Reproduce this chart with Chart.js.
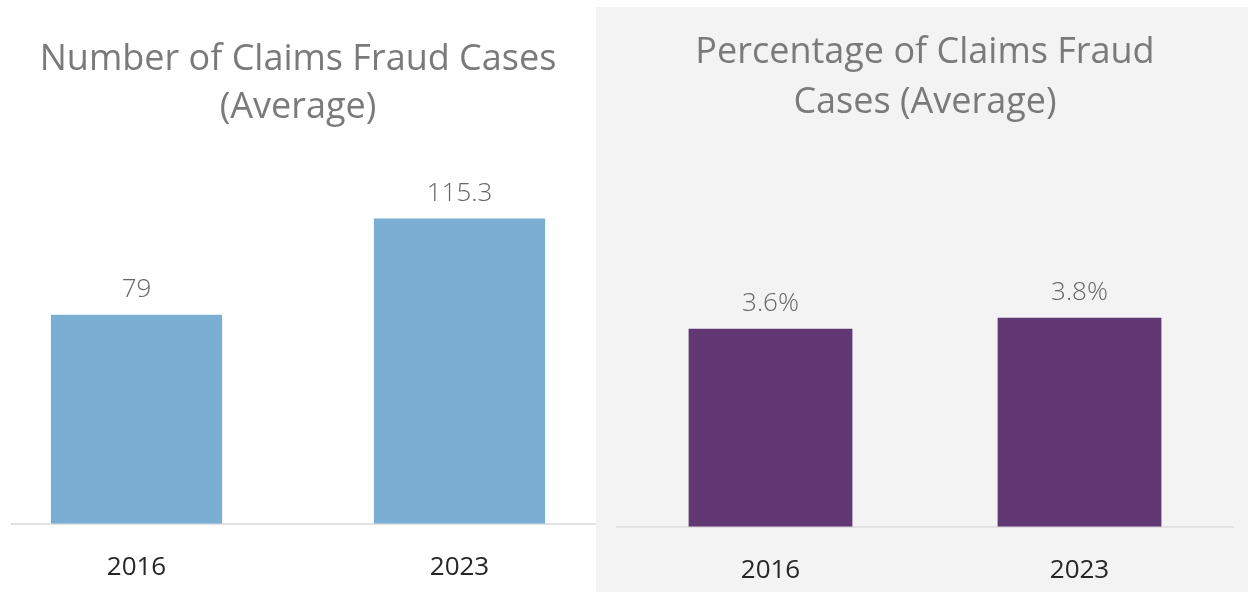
<!DOCTYPE html>
<html>
<head>
<meta charset="utf-8">
<script src="https://cdn.jsdelivr.net/npm/chart.js@4.4.1/dist/chart.umd.min.js"></script>
<style>
  html, body { margin: 0; padding: 0; background: #fff; }
  body { width: 1248px; height: 592px; position: relative; overflow: hidden; }
  #leftWrap { position: absolute; left: 11px; top: 0; width: 585px; height: 621px; overflow: hidden; }
  #countChart { position: absolute; left: -36px; top: 0; }
  #rightWrap { position: absolute; left: 596px; top: 7px; width: 652px; height: 614px; background: #f3f3f3; }
  #pctChart { position: absolute; left: 20px; top: 0; }
</style>
</head>
<body>
<div id="leftWrap"><canvas id="countChart" width="646" height="621"></canvas></div>
<div id="rightWrap"><canvas id="pctChart" width="618" height="614"></canvas></div>
<script>
const years = ["2016", "2023"];
const fraudCases = [79, 115.3];
const fraudPercent = [3.6, 3.8];
const countTitle = ["Number of Claims Fraud Cases", "(Average)"];
const pctTitle = ["Percentage of Claims Fraud", "Cases (Average)"];

Chart.defaults.font.family = "'Open Sans', sans-serif";

// value text above every bar
const valueLabels = {
  id: "valueLabels",
  afterDatasetsDraw(chart, args, opts) {
    const ctx = chart.ctx;
    const values = chart.data.datasets[0].data;
    ctx.save();
    ctx.font = opts.font;
    ctx.fillStyle = opts.color;
    ctx.textAlign = "center";
    ctx.textBaseline = "alphabetic";
    chart.getDatasetMeta(0).data.forEach((bar, i) => {
      ctx.fillText(opts.format(values[i]), bar.x, bar.y - opts.gap);
    });
    ctx.restore();
  }
};

function makeChart(id, values, color, title, yMax, titleTop, lineHeight, bottomPad, fmt) {
  return new Chart(document.getElementById(id), {
    type: "bar",
    data: {
      labels: years,
      datasets: [{
        data: values,
        backgroundColor: color,
        categoryPercentage: 1,
        barPercentage: 0.53
      }]
    },
    plugins: [valueLabels],
    options: {
      responsive: false,
      animation: false,
      layout: { padding: { left: 0, right: 0, top: 0, bottom: bottomPad } },
      scales: {
        x: {
          grid: { display: false, drawTicks: false },
          border: { display: true, color: "#e2e2e2", width: 2 },
          ticks: { color: "#262626", font: { size: 26, weight: "500" }, padding: 28 }
        },
        y: { display: false, min: 0, max: yMax }
      },
      plugins: {
        legend: { display: false },
        tooltip: { enabled: false },
        title: {
          display: true,
          text: title,
          color: "#7a7a7a",
          font: { size: 36, weight: "400", lineHeight: lineHeight },
          padding: { top: titleTop, bottom: 0 }
        },
        valueLabels: {
          font: "300 26px 'Open Sans', sans-serif",
          color: "#666666",
          gap: 18,
          format: fmt
        }
      }
    }
  });
}

makeChart("countChart", fraudCases, "#7baed3", countTitle, 148, 36, 1.333, 10, v => String(v));
makeChart("pctChart", fraudPercent, "#613874", pctTitle, 7.25, 21, 1.39, 7, v => v.toFixed(1) + "%");
</script>
</body>
</html>
